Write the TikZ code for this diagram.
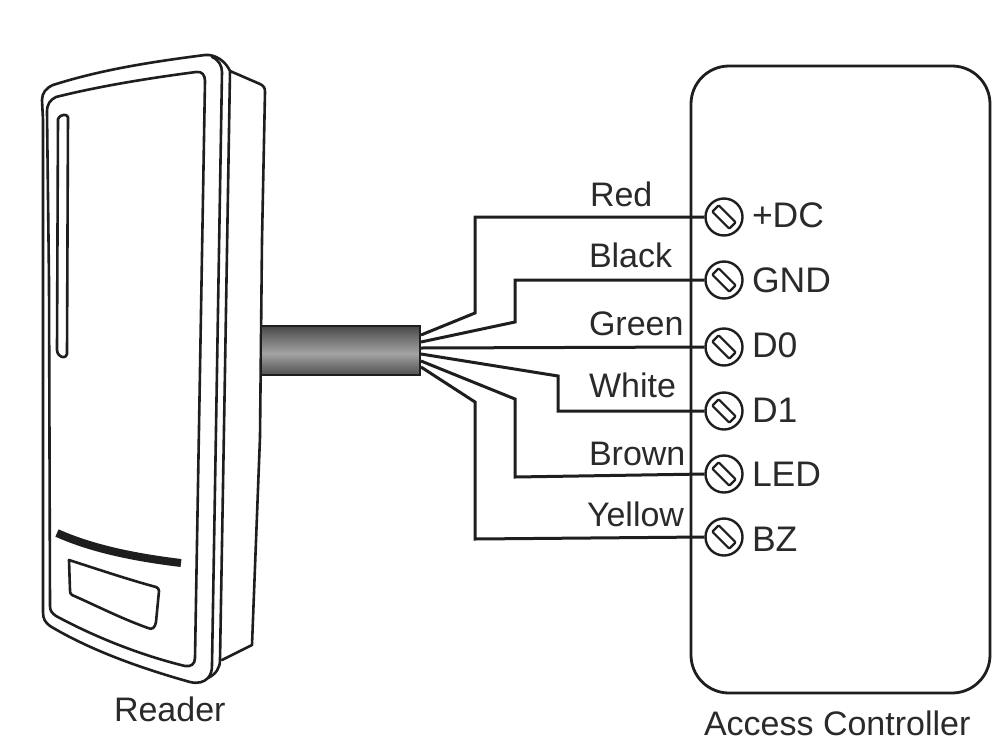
\documentclass[tikz,border=0pt]{standalone}
\usepackage{fontspec}
\setmainfont{Liberation Sans}
\definecolor{ink}{HTML}{1E1E1E}
\definecolor{txt}{HTML}{2A2A2A}
\pgfdeclareverticalshading{cableshade}{100bp}{
 color(0bp)=(black!68);
 color(25bp)=(black!68);
 color(38bp)=(black!50);
 color(47bp)=(black!36);
 color(60bp)=(black!52);
 color(75bp)=(black!72);
 color(100bp)=(black!72)}
\tikzset{
 body/.style={draw=ink,line width=2.6pt,line join=round,line cap=round},
 wire/.style={draw=ink,line width=3pt,line join=miter},
 lbl/.style={anchor=base west,inner sep=0pt,outer sep=0pt,text=txt,font=\fontsize{34}{36}\selectfont},
 lblb/.style={lbl,font=\fontsize{35.5}{38}\selectfont},
 term/.style={circle,draw=ink,line width=2.4pt,minimum size=37pt,inner sep=0pt,fill=white},
 screw/.style={rectangle,draw=ink,line width=2.2pt,minimum width=24pt,minimum height=9pt,inner sep=0pt,rotate=-45,rounded corners=1pt}
}
\begin{document}
\begin{tikzpicture}[x=1pt,y=-1pt]
\useasboundingbox (0,0) rectangle (1007,745);
\fill[white] (0,0) rectangle (1007,745);
% Reader: side body
\draw[body] (230,71) -- (260,84) .. controls (264,86) and (265,88) .. (265,92)
  -- (262,240) -- (260,437) -- (252,645) -- (222,660);
% Reader: outer front
\draw[body] (43,120) -- (42,100) .. controls (42,93) and (46,88) .. (53,85)
  .. controls (100,70) and (150,62) .. (205,55)
  .. controls (216,54) and (226,62) .. (230,71)
  -- (225,370) -- (220,660) .. controls (220,668) and (216,674) .. (208,678)
  .. controls (204,682) and (198,684) .. (190,682)
  .. controls (140,668) and (90,650) .. (50,626)
  .. controls (45,622) and (43,619) .. (43,612) -- cycle;
% Reader: second edge line
\draw[body] (212,57) .. controls (219,60) and (222,66) .. (222,72)
  -- (217,370) -- (212,665) .. controls (212,671) and (211,674) .. (208,678);
% Reader: inner face
\draw[body] (49,280) -- (47,112) .. controls (47,104) and (50,100) .. (56,97)
  .. controls (100,86) and (150,78) .. (196,72)
  .. controls (202,71) and (205,75) .. (205,81)
  -- (200,370) -- (195,658) .. controls (195,664) and (191,667) .. (185,666)
  .. controls (140,655) and (95,637) .. (56,616)
  .. controls (52,613) and (50,611) .. (50,606) -- cycle;
% Reader: slot
\draw[body] (58,119) .. controls (59,115) and (67,113) .. (68,117)
  -- (67,354) .. controls (66,358) and (62,358) .. (59,355)
  .. controls (58,354) and (57,352) .. (57,350) -- cycle;
% Reader: bar
\draw[draw=ink,line width=8pt] (57,533) .. controls (95,550) and (140,558) .. (181,563);
% Reader: window
\draw[body] (69,560) .. controls (100,570) and (130,580) .. (156,587)
  .. controls (158,588) and (159,589) .. (159,591) -- (156,622)
  .. controls (155,628) and (152,630) .. (148,628)
  .. controls (120,618) and (95,605) .. (72,595)
  .. controls (70,594) and (70,592) .. (70,590) -- cycle;

% Controller
\node[draw=ink,line width=2.8pt,rounded corners=38pt,minimum width=299pt,minimum height=627pt,inner sep=0pt,outer sep=0pt,anchor=north west] (ctrl) at (691,66) {};

% Terminals
\node[term] (t1) at (724,217) {}; \node[screw] at (t1) {};
\node[term] (t2) at (724,280) {}; \node[screw] at (t2) {};
\node[term] (t3) at (724,347) {}; \node[screw] at (t3) {};
\node[term] (t4) at (724,411) {}; \node[screw] at (t4) {};
\node[term] (t5) at (724,474) {}; \node[screw] at (t5) {};
\node[term] (t6) at (724,537) {}; \node[screw] at (t6) {};

% Cable
\node[draw=ink,line width=2pt,shading=cableshade,minimum width=159pt,minimum height=49pt,inner sep=0pt,outer sep=0pt,anchor=north west] (cable) at (261,326) {};
\coordinate (c1) at (421,335);
\coordinate (c2) at (421,342);
\coordinate (c3) at (421,348);
\coordinate (c4) at (421,354);
\coordinate (c5) at (421,361);
\coordinate (c6) at (421,367);

% Wires
\draw[wire] (c1) -- (475,313) -- (475,217) -- (t1.west);
\draw[wire] (c2) -- (515,322) -- (515,280) -- (t2.west);
\draw[wire] (c3) -- (t3.west);
\draw[wire] (c4) -- (558,376) -- (558,411) -- (t4.west);
\draw[wire] (c5) -- (515,399) -- (515,477) -- (t5.west);
\draw[wire] (c6) -- (475,402) -- (475,539) -- (t6.west);

% Wire labels
\node[lbl] (lr) at (590,206) {Red};
\node[lbl] (lk) at (589,267) {Black};
\node[lbl] (lg) at (589,335) {Green};
\node[lbl] (lw) at (589,397) {White};
\node[lbl] (lb) at (589,465) {Brown};
\node[lbl] (ly) at (587,526) {Yellow};
% Terminal labels
\node[lblb] (a1) at (752,227) {+DC};
\node[lblb] (a2) at (752,292) {GND};
\node[lblb] (a3) at (752,357) {D0};
\node[lblb] (a4) at (752,422) {D1};
\node[lblb] (a5) at (752,486) {LED};
\node[lblb] (a6) at (752,551) {BZ};
% Captions
\node[lbl] (cr) at (114,721) {Reader};
\node[lbl] (cc) at (704,735) {Access Controller};
\end{tikzpicture}
\end{document}
